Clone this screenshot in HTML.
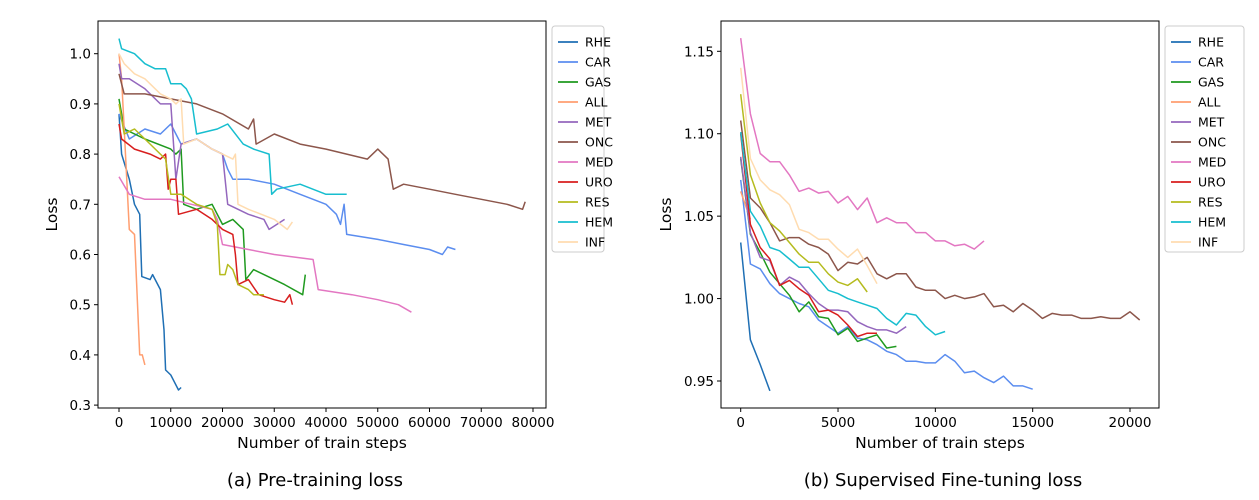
<!DOCTYPE html>
<html><head><meta charset="utf-8">
<style>
body{margin:0;background:#fff;width:1259px;height:495px;overflow:hidden}
svg text{font-family:"DejaVu Sans","Liberation Sans",sans-serif;fill:#000}
</style></head>
<body>
<svg id="chart" width="1259" height="495" xmlns="http://www.w3.org/2000/svg"></svg>
<script>
const names=["RHE","CAR","GAS","ALL","MET","ONC","MED","URO","RES","HEM","INF"];
const colors=["#1f6fb4","#5b8def","#1f9a1f","#ff9e70","#9467bd","#8c564b","#e377c2","#d81e1e","#b5bb1e","#17becf","#ffdcb0"];
// Pre-training series (steps, loss)
const preX={
RHE:[0,500,2000,3000,4000,4400,6000,6500,8000,8700,9000,10000,11500,12000],
CAR:[0,2000,5000,8000,10000,11000,12000,15000,18000,20000,21000,22000,25000,30000,35000,40000,42000,42800,43500,44000,50000,55000,60000,62500,63500,65000],
GAS:[0,1000,5000,10000,11000,12000,12500,15000,18000,20000,22000,24000,24500,26000,30000,32000,35500,36000],
ALL:[0,500,1000,2000,3000,4000,4500,5000],
MET:[0,500,2000,5000,8000,10000,11000,12000,15000,18000,20000,21000,25000,28000,29000,32000],
ONC:[0,1000,5000,10000,15000,20000,25000,26000,26500,30000,35000,40000,48000,50000,52000,53000,55000,60000,65000,70000,75000,78000,78500],
MED:[0,2000,5000,10000,14000,18000,19000,20000,25000,30000,37500,38500,45000,50000,54000,56500],
URO:[0,500,3000,6000,8000,9000,9500,10000,11000,11500,15000,18000,20000,22000,22500,23000,25000,27000,30000,32000,33000,33500],
RES:[0,1000,3000,5000,8000,9000,10000,12000,15000,18000,19000,19500,20500,21000,22000,23000,25000,26000,28000],
HEM:[0,500,3000,5000,7000,9000,10000,12000,13000,14000,15000,19000,21000,24000,26000,29000,29500,30500,35000,40000,44000],
INF:[0,1000,3000,5000,7000,8000,10000,11000,12000,12500,15000,18000,20000,22000,22500,23000,25000,30000,32500,33500]};
const preY={
RHE:[0.88,0.80,0.75,0.70,0.68,0.556,0.55,0.56,0.53,0.45,0.37,0.36,0.33,0.335],
CAR:[0.88,0.83,0.85,0.84,0.86,0.84,0.82,0.83,0.81,0.80,0.77,0.75,0.75,0.74,0.72,0.70,0.68,0.66,0.70,0.64,0.63,0.62,0.61,0.60,0.615,0.61],
GAS:[0.91,0.85,0.83,0.81,0.80,0.81,0.70,0.69,0.70,0.66,0.67,0.65,0.55,0.57,0.55,0.54,0.52,0.56],
ALL:[1.0,0.95,0.85,0.65,0.64,0.40,0.40,0.38],
MET:[0.98,0.95,0.95,0.93,0.90,0.90,0.75,0.82,0.83,0.81,0.80,0.70,0.68,0.67,0.65,0.67],
ONC:[0.96,0.92,0.92,0.91,0.90,0.88,0.85,0.87,0.82,0.84,0.82,0.81,0.79,0.81,0.79,0.73,0.74,0.73,0.72,0.71,0.70,0.69,0.705],
MED:[0.755,0.72,0.71,0.71,0.70,0.69,0.67,0.62,0.61,0.60,0.59,0.53,0.52,0.51,0.50,0.485],
URO:[0.86,0.83,0.81,0.80,0.79,0.80,0.73,0.75,0.75,0.68,0.69,0.67,0.65,0.64,0.60,0.54,0.55,0.52,0.51,0.505,0.52,0.50],
RES:[0.90,0.84,0.85,0.83,0.80,0.79,0.72,0.72,0.70,0.69,0.66,0.56,0.56,0.58,0.57,0.54,0.53,0.52,0.52],
HEM:[1.03,1.01,1.0,0.98,0.97,0.97,0.94,0.94,0.93,0.91,0.84,0.85,0.86,0.82,0.81,0.80,0.72,0.73,0.74,0.72,0.72],
INF:[1.0,0.98,0.96,0.95,0.93,0.92,0.91,0.90,0.91,0.82,0.83,0.81,0.80,0.79,0.80,0.70,0.69,0.67,0.65,0.665]};
// Fine-tuning series: losses every 500 steps from 0
const ftStep=500;
const ftY={
RHE:[1.034,0.975,0.96,0.944],
CAR:[1.072,1.021,1.018,1.009,1.003,1.0,0.997,0.995,0.987,0.983,0.979,0.983,0.976,0.975,0.972,0.968,0.966,0.962,0.962,0.961,0.961,0.966,0.962,0.955,0.956,0.952,0.949,0.953,0.947,0.947,0.945],
GAS:[1.085,1.039,1.028,1.016,1.009,1.002,0.992,0.998,0.989,0.988,0.978,0.982,0.974,0.976,0.978,0.970,0.971],
ALL:[1.065,1.048],
MET:[1.086,1.04,1.025,1.023,1.008,1.013,1.01,1.003,0.997,0.993,0.993,0.992,0.986,0.983,0.981,0.981,0.979,0.983],
ONC:[1.108,1.061,1.055,1.046,1.035,1.037,1.037,1.033,1.031,1.027,1.017,1.022,1.021,1.025,1.015,1.012,1.015,1.015,1.007,1.005,1.005,1.0,1.002,1.0,1.001,1.003,0.995,0.996,0.992,0.997,0.993,0.988,0.991,0.99,0.99,0.988,0.988,0.989,0.988,0.988,0.992,0.987],
MED:[1.158,1.112,1.088,1.083,1.083,1.075,1.065,1.067,1.064,1.065,1.058,1.062,1.054,1.061,1.046,1.049,1.046,1.046,1.040,1.040,1.035,1.035,1.032,1.033,1.03,1.035],
URO:[1.1,1.045,1.031,1.024,1.008,1.011,1.006,1.002,0.992,0.993,0.99,0.984,0.977,0.979,0.979],
RES:[1.124,1.075,1.058,1.046,1.041,1.034,1.027,1.022,1.022,1.015,1.01,1.008,1.012,1.004],
HEM:[1.101,1.053,1.044,1.031,1.029,1.024,1.019,1.019,1.012,1.005,1.003,1.0,0.998,0.996,0.994,0.988,0.984,0.991,0.990,0.983,0.978,0.980],
INF:[1.14,1.085,1.072,1.066,1.063,1.057,1.042,1.04,1.036,1.036,1.03,1.025,1.03,1.02,1.009]};
const preXTicks=[0,10000,20000,30000,40000,50000,60000,70000,80000];
const preYTicks=[0.3,0.4,0.5,0.6,0.7,0.8,0.9,1.0];
const ftXTicks=[0,5000,10000,15000,20000];
const ftYTicks=[0.95,1.0,1.05,1.10,1.15];

const svg=document.getElementById('chart');
const NS="http://www.w3.org/2000/svg";
function mk(tag,attrs,parent){const e=document.createElementNS(NS,tag);for(const k in attrs)e.setAttribute(k,attrs[k]);(parent||svg).appendChild(e);return e;}

function panel(id,box,xs,ys,xTicks,yTicks,yFmt,getPts,legX,caption,capX){
  const g=mk('g',{});
  
  
  const X=v=>xs[0]+(v-xs[1])*xs[2];
  const Y=v=>ys[0]-(v-ys[1])*ys[2];
  names.forEach((n,i)=>{
    const pts=getPts(n).map(p=>X(p[0]).toFixed(1)+','+Y(p[1]).toFixed(1)).join(' ');
    const pl=mk('polyline',{points:pts,fill:'none',stroke:colors[i],'stroke-width':1.5,'stroke-linejoin':'round'},g);
    
    
  });
  const fr=mk('rect',{x:box[0],y:box[1],width:box[2]-box[0],height:box[3]-box[1],fill:'none',stroke:'#000','stroke-width':1},g);
  
  
  xTicks.forEach(t=>{
    const x=X(t);
    mk('line',{x1:x,x2:x,y1:box[3],y2:box[3]+4,stroke:'#000'},g);
    const tx=mk('text',{x:x,y:box[3]+19,'text-anchor':'middle','font-size':13.5},g);
    tx.textContent=t;
    
    
  });
  yTicks.forEach(t=>{
    const y=Y(t);
    mk('line',{x1:box[0]-4,x2:box[0],y1:y,y2:y,stroke:'#000'},g);
    const tx=mk('text',{x:box[0]-7,y:y+5,'text-anchor':'end','font-size':13.5},g);
    tx.textContent=t.toFixed(yFmt);
    
    
  });
  const xl=mk('text',{x:(box[0]+box[2])/2,y:box[3]+40,'text-anchor':'middle','font-size':15.5},g);
  xl.textContent='Number of train steps';
  
  
  const yx=box[0]-(yFmt===1?41:50);
  const yl=mk('text',{x:yx,y:(box[1]+box[3])/2,'text-anchor':'middle','font-size':15.5,transform:`rotate(-90 ${yx} ${(box[1]+box[3])/2})`},g);
  yl.textContent='Loss';
  
  
  const lg=mk('g',{},g);
  
  
  mk('rect',{x:legX,y:26,width:id==='pre'?52:79,height:226,rx:3,fill:'#fff',stroke:'#ccc'},lg);
  names.forEach((n,i)=>{
    const y=42+i*20;
    mk('line',{x1:legX+6,x2:legX+26,y1:y,y2:y,stroke:colors[i],'stroke-width':1.8},lg);
    const t=mk('text',{x:legX+33,y:y+4.5,'font-size':12.5},lg);
    t.textContent=n;
    
    
  });
  const c=mk('text',{x:capX,y:486,'text-anchor':'middle','font-size':18,'font-family':'"Liberation Sans",sans-serif'},g);
  c.textContent=caption;
  
  
}
panel('pre',[98,21,546,408],[119,0,414/80000],[53.7,1.0,502],preXTicks,preYTicks,1,
  n=>preX[n].map((x,i)=>[x,preY[n][i]]),552,'(a) Pre-training loss',315);
panel('ft',[721,21,1159,408],[740.7,0,389.3/20000],[51.3,1.15,329.7/0.2],ftXTicks,ftYTicks,2,
  n=>ftY[n].map((v,i)=>[i*ftStep,v]),1165,'(b) Supervised Fine-tuning loss',943);
</script>
</body></html>
